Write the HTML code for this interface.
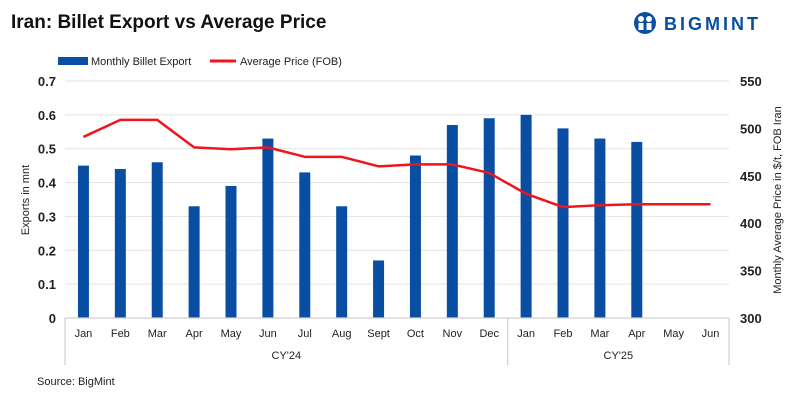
<!DOCTYPE html>
<html><head><meta charset="utf-8"><style>
body{margin:0;background:#fff;font-family:"Liberation Sans",Arial,sans-serif;}
svg text{font-family:"Liberation Sans",Arial,sans-serif;}
</style></head><body>
<svg id="c" width="800" height="401" viewBox="0 0 800 401">
<text x="11" y="28" font-size="19" font-weight="bold" fill="#111">Iran: Billet Export vs Average Price</text>
<g>
<circle cx="645" cy="23" r="11" fill="#0a4ea3"/>
<circle cx="641" cy="19" r="3" fill="#fff"/><circle cx="649" cy="19" r="3" fill="#fff"/>
<rect x="638.5" y="23" width="5" height="7" fill="#fff"/><rect x="646.5" y="23" width="5" height="7" fill="#fff"/>
<text x="664" y="30" font-size="18" font-weight="bold" fill="#0a4ea3" letter-spacing="3">BIGMINT</text>
</g>
<g>
<rect x="58" y="57" width="30" height="8" fill="#0a4ea3"/>
<text x="91" y="65" font-size="11" fill="#222">Monthly Billet Export</text>
<line x1="210" y1="61" x2="236" y2="61" stroke="#f0141b" stroke-width="3"/>
<text x="240" y="65" font-size="11" fill="#222">Average Price (FOB)</text>
</g>
<g id="plot"></g>
<text x="37" y="385" font-size="11" fill="#222">Source: BigMint</text>
</svg>
<script>
const months=["Jan","Feb","Mar","Apr","May","Jun","Jul","Aug","Sept","Oct","Nov","Dec","Jan","Feb","Mar","Apr","May","Jun"];
const exportVals=[0.45,0.44,0.46,0.33,0.39,0.53,0.43,0.33,0.17,0.48,0.57,0.59,0.60,0.56,0.53,0.52,null,null];
const priceVals=[491,509,509,480,478,480,470,470,460,462,462,453,431,417,419,420,420,420];
const leftTicks=[0,0.1,0.2,0.3,0.4,0.5,0.6,0.7];
const leftTickLabels=["0","0.1","0.2","0.3","0.4","0.5","0.6","0.7"];
const rightTicks=[300,350,400,450,500,550];
const years=["CY'24","CY'25"];
const NS="http://www.w3.org/2000/svg";
const X0=65,X1=729,Y0=318,Y1=81;
const bw=(X1-X0)/months.length;
const xC=i=>X0+bw*(i+0.5);
const yL=v=>Y0-(v/0.7)*(Y0-Y1);
const yR=v=>Y0-((v-300)/250)*(Y0-Y1);
const g=document.getElementById('plot');
function mk(t,a,txt){const e=document.createElementNS(NS,t);for(const k in a)e.setAttribute(k,a[k]);if(txt!=null)e.textContent=txt;g.appendChild(e);return e;}
leftTicks.forEach((v,i)=>{if(v>0){const gl=mk('line',{x1:X0,x2:X1,y1:yL(v),y2:yL(v),stroke:'#e2e2e2','stroke-width':1});

}
const e=mk('text',{x:56,y:yL(v)+5,'text-anchor':'end','font-size':13,'font-weight':'bold',fill:'#222'},leftTickLabels[i]);

});
rightTicks.forEach(v=>{const e=mk('text',{x:740,y:yR(v)+5,'font-size':13,'font-weight':'bold',fill:'#222'},String(v));

});
let t=mk('text',{x:0,y:0,transform:'translate(29,200) rotate(-90)','text-anchor':'middle','font-size':11,fill:'#222'},'Exports in mnt');


t=mk('text',{x:0,y:0,transform:'translate(781,200) rotate(-90)','text-anchor':'middle','font-size':11,fill:'#222'},'Monthly Average Price in $/t, FOB Iran');


exportVals.forEach((v,i)=>{if(v==null)return;const r=mk('rect',{x:xC(i)-5.5,y:yL(v),width:11,height:Y0-yL(v),fill:'#0a4ea3'});

});
const ax=mk('path',{d:`M${X0} ${Y0}H${X1}M${X0} ${Y0}V365M${X0+bw*12} ${Y0}V365M${X1} ${Y0}V365`,stroke:'#d0d0d0','stroke-width':1.2,fill:'none'});


months.forEach((m,i)=>{const e=mk('text',{x:xC(i),y:337,'text-anchor':'middle','font-size':11,fill:'#222'},m);

});
years.forEach((y,k)=>{const cx=k==0?(X0+X0+bw*12)/2:(X0+bw*12+X1)/2;const e=mk('text',{x:cx,y:359,'text-anchor':'middle','font-size':11,fill:'#222'},y);

});
const ln=mk('polyline',{points:priceVals.map((v,i)=>xC(i)+','+yR(v)).join(' '),fill:'none',stroke:'#f0141b','stroke-width':2.5,'stroke-linejoin':'round'});


</script>
</body></html>
